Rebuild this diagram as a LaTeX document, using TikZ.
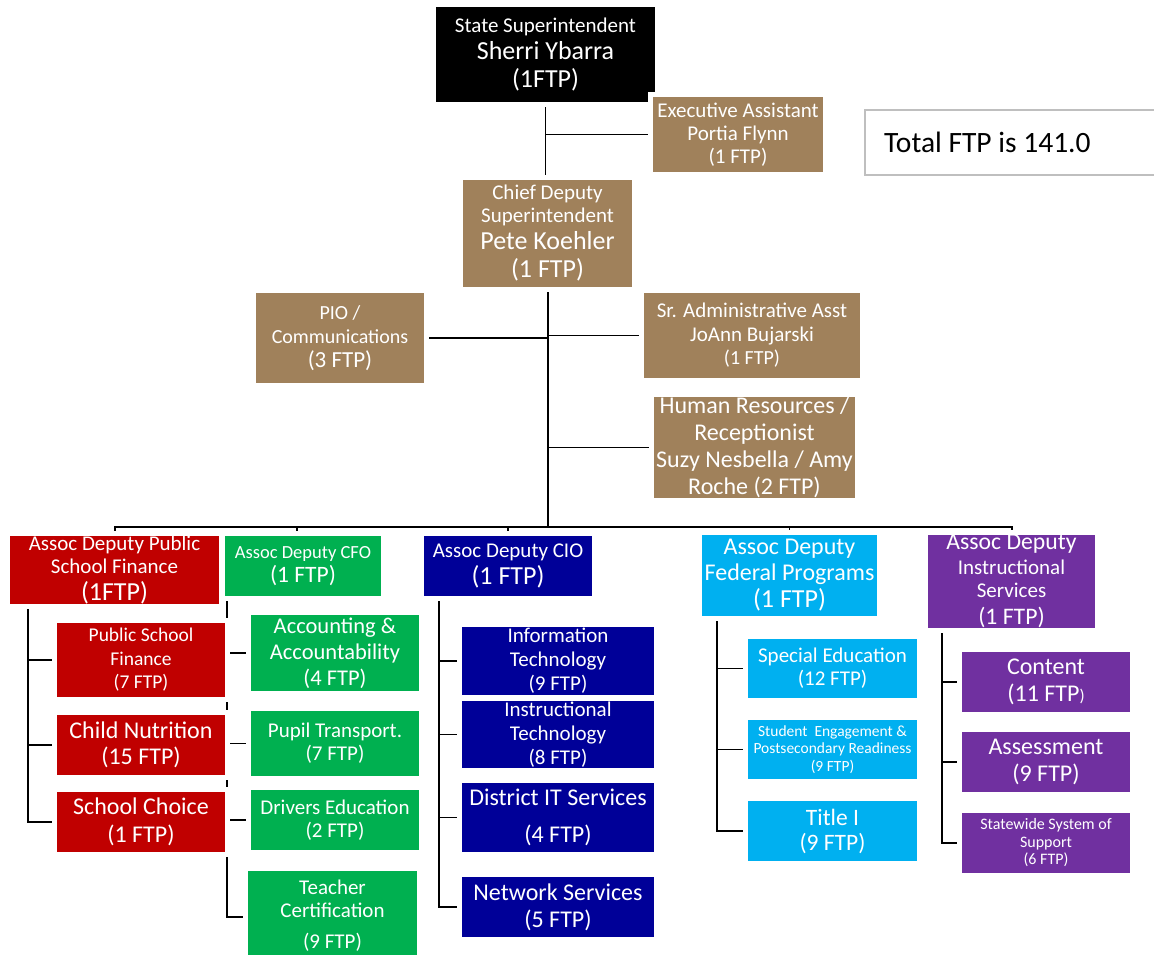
\documentclass[tikz,border=0pt]{standalone}
\usepackage{fontspec}
\setmainfont{Carlito}
\usetikzlibrary{calc}
\pgfdeclarelayer{bg}
\pgfsetlayers{bg,main}

\definecolor{orgtan}{RGB}{160,129,91}
\definecolor{orgred}{RGB}{192,0,0}
\definecolor{orggreen}{RGB}{0,176,80}
\definecolor{orgnavy}{RGB}{0,0,152}
\definecolor{orgsky}{RGB}{0,176,240}
\definecolor{orgpurple}{RGB}{112,48,160}
\definecolor{framegray}{RGB}{191,191,191}

\newcommand\fsz[2]{\fontsize{#1}{#2}\selectfont}
% box: name, style, x1, y1, x2, y2, text  (pixel-like units, y downward)
\newcommand\orgbox[7]{%
  \node[#2, minimum width={(#5-#3)*1pt}, minimum height={(#6-#4)*1pt}]
    (#1) at ({(#3+#5)/2},{(#4+#6)/2}) {#7};}

\tikzset{
  unit/.style={rectangle, inner sep=0pt, outer sep=0pt, text=white, align=center,
    preaction={draw=white, line width=10pt}},
  blackbox/.style={unit, fill=black},
  tanbox/.style={unit, fill=orgtan},
  redbox/.style={unit, fill=orgred},
  greenbox/.style={unit, fill=orggreen},
  navybox/.style={unit, fill=orgnavy},
  skybox/.style={unit, fill=orgsky},
  purplebox/.style={unit, fill=orgpurple},
  conn/.style={draw=black, line width=1.5pt},
  spine/.style={draw=black, line width=2pt},
}

\begin{document}
\begin{tikzpicture}[x=1pt, y=-1pt]
\useasboundingbox (0,0) rectangle (1154,955);
\clip (0,0) rectangle (1154,955);

% executive office
\orgbox{sup}{blackbox, font={\fsz{21}{27.5}}}{436}{7}{655}{102}
  {State Superintendent\\{\fsz{26}{27.5}Sherri Ybarra}\\{\fsz{26}{27.5}(1FTP)}}
\orgbox{exec}{tanbox, font={\fsz{21}{23}}}{653}{97}{823}{172}
  {Executive Assistant\\Portia Flynn\\(1 FTP)}
\orgbox{chief}{tanbox, font={\fsz{21}{23}}}{463}{180}{632}{287}
  {Chief Deputy\\Superintendent\\[4pt]{\fsz{26}{23}Pete Koehler}\\[5pt]{\fsz{26}{23}(1 FTP)}}
\orgbox{pio}{tanbox, font={\fsz{20}{24}}}{256}{293}{424}{383}
  {PIO /\\Communications\\{\fsz{23}{24}(3 FTP)}}
\orgbox{sr}{tanbox, font={\fsz{21}{23.5}}}{644}{293}{860}{378}
  {Sr. Administrative Asst\\JoAnn Bujarski\\{\fsz{20}{23.5}(1 FTP)}}
\orgbox{hr}{tanbox, font={\fsz{24}{27}}}{654}{397}{855}{498}
  {Human Resources /\\Receptionist\\Suzy Nesbella / Amy\\Roche (2 FTP)}

% total
\node[draw=framegray, line width=2pt, rectangle, inner sep=0pt,
  minimum width=295pt, minimum height=65pt] (total) at (1012.5,142.5) {};
\node[anchor=west, inner sep=0pt, font={\fsz{29.5}{32}}]
  (totaltext) at ([xshift=20pt]total.west) {Total FTP is 141.0};

% public school finance
\orgbox{rh}{redbox, font={\fsz{21}{23}}}{10}{536}{219}{604}
  {Assoc Deputy Public\\School Finance\\[4pt]{\fsz{26}{23}(1FTP)}}
\orgbox{psf}{redbox, font={\fsz{19.5}{23.5}}}{57}{623}{225}{697}
  {Public School\\Finance\\(7 FTP)}
\orgbox{cn}{redbox, font={\fsz{24}{26}}}{57}{715}{225}{775}
  {Child Nutrition\\(15 FTP)}
\orgbox{sc}{redbox, font={\fsz{24}{28}}}{57}{792}{225}{852}
  {School Choice\\(1 FTP)}

% CFO
\orgbox{cfo}{greenbox, font={\fsz{18.5}{24}}}{225}{536}{381}{596}
  {Assoc Deputy CFO\\{\fsz{23.5}{24}(1 FTP)}}
\orgbox{acc}{greenbox, font={\fsz{22.5}{26}}}{251}{615}{419}{691}
  {Accounting \&\\Accountability\\(4 FTP)}
\orgbox{pt}{greenbox, font={\fsz{21}{23}}}{251}{711}{419}{776}
  {Pupil Transport.\\(7 FTP)}
\orgbox{de}{greenbox, font={\fsz{21}{23}}}{251}{790}{419}{850}
  {Drivers Education\\(2 FTP)}
\orgbox{tc}{greenbox, font={\fsz{21}{23}}}{248}{871}{417}{960}
  {Teacher\\Certification\\[8pt](9 FTP)}

% CIO
\orgbox{cio}{navybox, font={\fsz{21}{27}}}{424}{536}{592}{596}
  {Assoc Deputy CIO\\{\fsz{26}{27}(1 FTP)}}
\orgbox{it}{navybox, font={\fsz{21}{24}}}{462}{627}{654}{695}
  {Information\\Technology\\(9 FTP)}
\orgbox{itt}{navybox, font={\fsz{21}{24}}}{462}{701}{654}{768}
  {Instructional\\Technology\\(8 FTP)}
\orgbox{dit}{navybox, font={\fsz{24}{28}}}{462}{783}{654}{852}
  {District IT Services\\[9pt](4 FTP)}
\orgbox{ns}{navybox, font={\fsz{24}{27}}}{462}{877}{654}{937}
  {Network Services\\(5 FTP)}

% federal programs
\orgbox{fed}{skybox, font={\fsz{24}{26}}}{702}{535}{877}{616}
  {Assoc Deputy\\Federal Programs\\[1pt]{\fsz{26}{26}(1 FTP)}}
\orgbox{sped}{skybox, font={\fsz{21}{23}}}{748}{639}{917}{698}
  {Special Education\\(12 FTP)}
\orgbox{se}{skybox, font={\fsz{15.5}{17.5}}}{748}{720}{917}{779}
  {Student\ \ Engagement \&\\Postsecondary Readiness\\(9 FTP)}
\orgbox{title}{skybox, font={\fsz{23.5}{25}}}{748}{801}{917}{861}
  {Title I\\(9 FTP)}

% instructional services
\orgbox{is}{purplebox, font={\fsz{21}{23}}}{928}{535}{1095}{628}
  {{\fsz{23.7}{23}Assoc Deputy}\\[2pt]Instructional\\Services\\[4pt]{\fsz{23.7}{23}(1 FTP)}}
\orgbox{content}{purplebox, font={\fsz{24}{27}}}{962}{652}{1130}{712}
  {Content\\(11 FTP{\fsz{17}{17})}}
\orgbox{assess}{purplebox, font={\fsz{24}{27}}}{962}{732}{1130}{792}
  {Assessment\\(9 FTP)}
\orgbox{sss}{purplebox, font={\fsz{16}{17.5}}}{962}{813}{1130}{873}
  {Statewide System of\\Support\\(6 FTP)}

\begin{pgfonlayer}{bg}
  % top of the chart
  \draw[conn] (sup.south) -- (sup.south |- chief.north);
  \draw[conn] (sup.south |- exec.west) -- (exec.west);
  \coordinate (bus) at (chief.south |- 0,527);
  \draw[spine] (chief.south) -- (bus);
  \draw[conn] (pio.east) -- (pio.east -| chief.south);
  \draw[conn] (sr.west) -- (sr.west -| chief.south);
  \draw[conn] (hr.west) -- (hr.west -| chief.south);
  % bus to the associate deputies
  \draw[spine] (rh.north) |- (bus) -| (is.north);
  \coordinate (cfotop) at ([xshift=-6pt]cfo.north);
  \draw[conn] (cfotop) -- (cfotop |- bus);
  \draw[conn] (cio.north) -- (cio.north |- bus);
  \draw[conn] (fed.north) -- (fed.north |- bus);
  % public school finance
  \coordinate (rtop) at ([xshift=18pt]rh.south west);
  \draw[conn] (rtop) |- (psf.west);
  \draw[conn] (rtop) |- (cn.west);
  \draw[conn] (rtop) |- (sc.west);
  % CFO
  \coordinate (gtop) at ([xshift=2pt]cfo.south west);
  \draw[conn] (gtop) |- (acc.west);
  \draw[conn] (gtop) |- (pt.west);
  \draw[conn] (gtop) |- (de.west);
  \draw[conn] ([yshift=-2pt]gtop) |- ([yshift=-1.5pt]tc.west);
  % CIO
  \coordinate (ctop) at ([xshift=15pt]cio.south west);
  \draw[conn] (ctop) |- (it.west);
  \draw[conn] (ctop) |- (itt.west);
  \draw[conn] (ctop) |- (dit.west);
  \draw[conn] (ctop) |- (ns.west);
  % federal programs
  \coordinate (ftop) at ([xshift=15pt]fed.south west);
  \draw[conn] (ftop) |- (sped.west);
  \draw[conn] (ftop) |- (se.west);
  \draw[conn] (ftop) |- (title.west);
  % instructional services
  \coordinate (ptop) at ([xshift=14pt]is.south west);
  \draw[conn] (ptop) |- (content.west);
  \draw[conn] (ptop) |- (assess.west);
  \draw[conn] (ptop) |- (sss.west);
\end{pgfonlayer}
\end{tikzpicture}
\end{document}
